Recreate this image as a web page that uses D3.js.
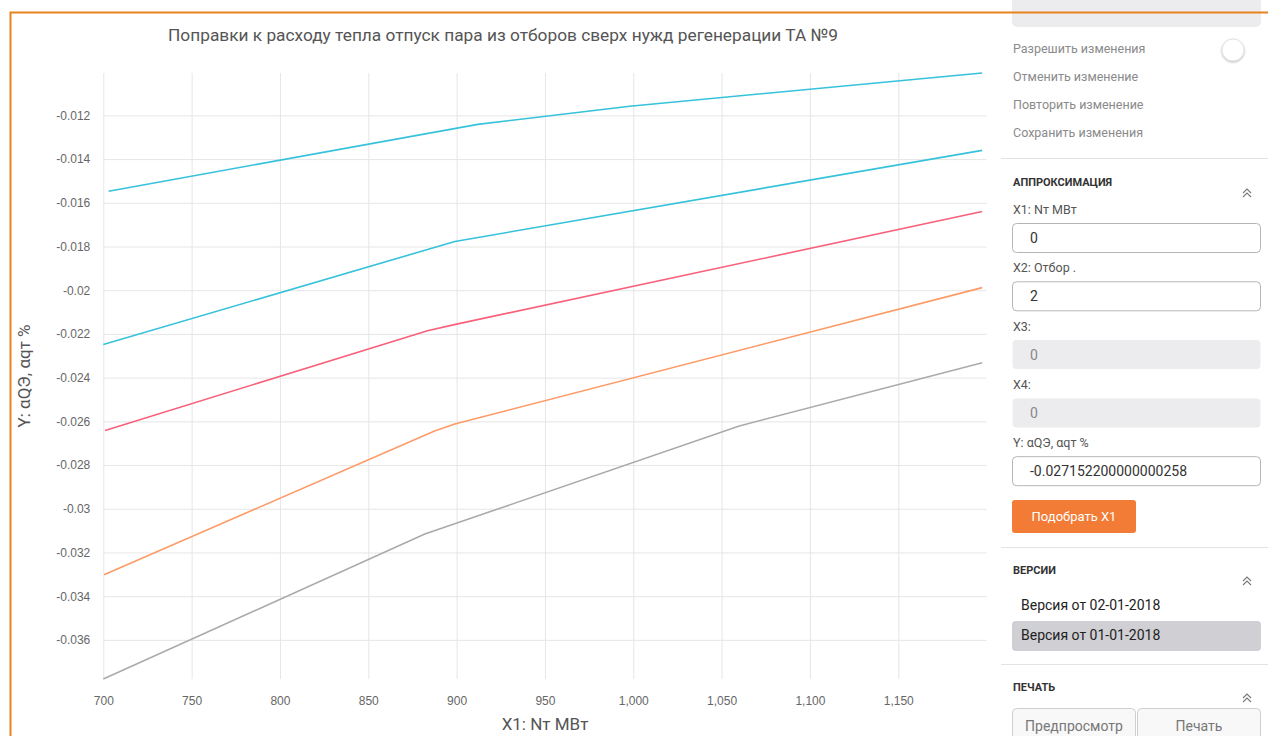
<!DOCTYPE html>
<html><head><meta charset="utf-8">
<script src="https://cdn.jsdelivr.net/npm/d3@7"></script>
<style>
html,body{margin:0;padding:0;background:#fff;}
svg{display:block;font-family:Roboto, "Noto Sans", sans-serif;}
</style></head>
<body><svg id="c" width="1268" height="736"></svg>
<script>
// ---- data ----
const chartTitle = "Поправки к расходу тепла отпуск пара из отборов сверх нужд регенерации ТА №9";
const xTitle = "X1: Nт МВт";
const yTitle = "Y: αQЭ, αqт %";
const xTicks = [700, 750, 800, 850, 900, 950, 1000, 1050, 1100, 1150];
const yTicks = [-0.012, -0.014, -0.016, -0.018, -0.02, -0.022, -0.024, -0.026, -0.028, -0.03, -0.032, -0.034, -0.036];
const xDomain = [700, 1200];

const s1x = [703, 912, 998, 1197.5];
const s1y = [-0.01547, -0.01241, -0.01158, -0.01006];
const s2x = [700, 899, 1197.5];
const s2y = [-0.02248, -0.01777, -0.01360];
const s3x = [701, 883.5, 900, 1197.5];
const s3y = [-0.02642, -0.02185, -0.02155, -0.01640];
const s4x = [700.4, 887.5, 899, 1197.5];
const s4y = [-0.03302, -0.02644, -0.02612, -0.01988];
const s5x = [700, 882, 1060, 1197.5];
const s5y = [-0.03779, -0.03116, -0.02621, -0.02332];
const seriesColors = ["#36c2db", "#36c2db", "#f9607a", "#fd9a66", "#aaaaaa"];

// side panel texts
const editItems = ["Разрешить изменения", "Отменить изменение", "Повторить изменение", "Сохранить изменения"];
const fieldLabels = ["X1: Nт МВт", "X2: Отбор .", "X3:", "X4:", "Y: αQЭ, αqт %"];
const fieldValues = ["0", "2", "0", "0", "-0.027152200000000258"];
const fieldDisabled = [false, false, true, true, false];
const versions = ["Версия от 02-01-2018", "Версия от 01-01-2018"];

// ---- chart ----
const svg = d3.select("#c");
svg.append("rect").attr("width", 1268).attr("height", 736).attr("fill", "#fff");

const series = [[s1x, s1y], [s2x, s2y], [s3x, s3y], [s4x, s4y], [s5x, s5y]]
  .map(([xs, ys], i) => ({ pts: xs.map((x, j) => [x, ys[j]]), color: seriesColors[i] }));
const allY = series.flatMap(s => s.pts.map(p => p[1]));

const L = 103.3, R = 986.6, T = 73, B = 679;
const x = d3.scaleLinear().domain(xDomain).range([L, R]);
const y = d3.scaleLinear().domain(d3.extent(allY)).range([B, T]);

const g = svg.append("g");
// grid
g.append("g").attr("transform", `translate(0,${B})`)
  .call(d3.axisBottom(x).tickValues(xTicks).tickSize(-(B - T)).tickFormat(d3.format(",")))
  .call(a => a.select(".domain").remove())
  .call(a => a.selectAll("line").attr("stroke", "#e6e6e6"))
  .call(a => a.selectAll("text").attr("fill", "#666").attr("font-size", 12).attr("dy", "0").attr("y", 26));
g.append("g").attr("transform", `translate(${L},0)`)
  .call(d3.axisLeft(y).tickValues(yTicks).tickSize(-(R - L)).tickFormat(d => String(+d.toFixed(3))))
  .call(a => a.select(".domain").remove())
  .call(a => a.selectAll("line").attr("stroke", "#e6e6e6"))
  .call(a => a.selectAll("text").attr("fill", "#666").attr("font-size", 12).attr("x", -13));

const line = d3.line().x(d => x(d[0])).y(d => y(d[1]));
g.selectAll("path.s").data(series).join("path").attr("class", "s")
  .attr("d", d => line(d.pts)).attr("fill", "none").attr("stroke", d => d.color).attr("stroke-width", 1.6);

svg.append("text").attr("x", 503).attr("y", 41).attr("text-anchor", "middle")
  .attr("font-size", 17.3).attr("fill", "#555").text(chartTitle);
svg.append("text").attr("x", 545).attr("y", 730).attr("text-anchor", "middle")
  .attr("font-size", 17).attr("fill", "#555").text(xTitle);
svg.append("text").attr("transform", `translate(30,${(T + B) / 2}) rotate(-90)`).attr("text-anchor", "middle")
  .attr("font-size", 17).attr("fill", "#555").text(yTitle);

// ---- side panel ----
const p = svg.append("g");
p.append("rect").attr("x", 1012).attr("y", -5).attr("width", 249).attr("height", 32).attr("rx", 5).attr("fill", "#ececee");
editItems.forEach((t, i) => p.append("text").attr("x", 1013).attr("y", 53 + i * 28)
  .attr("font-size", 12.5).attr("fill", "#8a8a8a").text(t));
p.append("circle").attr("cx", 1233).attr("cy", 50).attr("r", 11).attr("fill", "#fff")
  .attr("stroke", "#e2e2e2").style("filter", "drop-shadow(0 1px 1px rgba(0,0,0,0.25))");

function sep(yy) { p.append("line").attr("x1", 1001).attr("x2", 1268).attr("y1", yy).attr("y2", yy).attr("stroke", "#e3e3e3"); }
function header(t, yy) {
  p.append("text").attr("x", 1013).attr("y", yy).attr("font-size", 11).attr("font-weight", "bold").attr("fill", "#333").text(t);
  const cx = 1247, cy = yy + 7;
  [0, 4].forEach(o => p.append("path").attr("d", `M${cx - 4},${cy + o} L${cx},${cy - 4 + o} L${cx + 4},${cy + o}`)
    .attr("fill", "none").attr("stroke", "#777").attr("stroke-width", 1.1));
}
sep(158.5);
header("АППРОКСИМАЦИЯ", 186);
fieldLabels.forEach((t, i) => {
  const top = 223 + i * 58.3;
  p.append("text").attr("x", 1013).attr("y", top - 9).attr("font-size", 12.5).attr("fill", "#555").text(t);
  p.append("rect").attr("x", 1012.5).attr("y", top + 0.5).attr("width", 248).attr("height", 29).attr("rx", 4)
    .attr("fill", fieldDisabled[i] ? "#ececee" : "#fff").attr("stroke", fieldDisabled[i] ? "none" : "#b5b5b5");
  p.append("text").attr("x", 1030).attr("y", top + 20).attr("font-size", 14)
    .attr("fill", fieldDisabled[i] ? "#888" : "#333").text(fieldValues[i]);
});
p.append("rect").attr("x", 1012).attr("y", 500).attr("width", 124).attr("height", 33).attr("rx", 3).attr("fill", "#f27b36");
p.append("text").attr("x", 1074).attr("y", 521).attr("text-anchor", "middle").attr("font-size", 13).attr("fill", "#fff").text("Подобрать X1");
sep(547.5);
header("ВЕРСИИ", 574);
p.append("rect").attr("x", 1012).attr("y", 621).attr("width", 249).attr("height", 30).attr("rx", 4).attr("fill", "#cfcfd4");
versions.forEach((t, i) => p.append("text").attr("x", 1021).attr("y", 610 + i * 30).attr("font-size", 14).attr("fill", "#222").text(t));
sep(664.5);
header("ПЕЧАТЬ", 691);
[["Предпросмотр", 1012.5], ["Печать", 1137.5]].forEach(([t, bx]) => {
  p.append("rect").attr("x", bx).attr("y", 708.5).attr("width", 123).attr("height", 40).attr("rx", 4)
    .attr("fill", "#f8f8f8").attr("stroke", "#cfcfcf");
  p.append("text").attr("x", bx + 61.5).attr("y", 731).attr("text-anchor", "middle").attr("font-size", 14).attr("fill", "#777").text(t);
});

// frame
svg.append("path").attr("d", "M10.5,736 L10.5,12.5 L1268,12.5").attr("fill", "none").attr("stroke", "#e8831f").attr("stroke-width", 2);
</script></body></html>
